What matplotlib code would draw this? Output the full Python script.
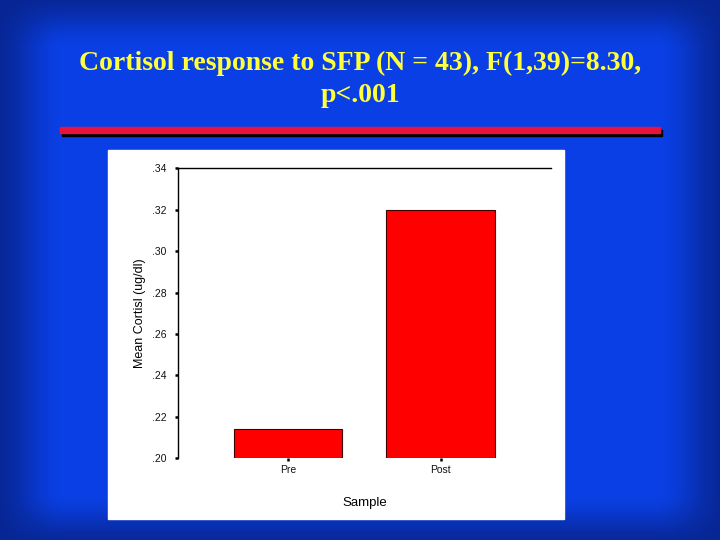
import numpy as np
import matplotlib
matplotlib.use("Agg")
import matplotlib.pyplot as plt
from matplotlib.patches import Rectangle

categories = ["Pre", "Post"]
means = [0.214, 0.320]
yticks = [0.20, 0.22, 0.24, 0.26, 0.28, 0.30, 0.32, 0.34]
ytick_labels = [".20", ".22", ".24", ".26", ".28", ".30", ".32", ".34"]
title_line1 = "Cortisol response to SFP (N = 43), F(1,39)=8.30,"
title_line2 = "p<.001"

W, H = 720, 540
fig = plt.figure(figsize=(7.2, 5.4), dpi=100)

# Background: blue with darker soft edges
bg = fig.add_axes([0, 0, 1, 1])
bg.set_axis_off()
yy, xx = np.mgrid[0:H:2, 0:W:2].astype(float)
def ramp(d, w):
    t = np.clip(d / w, 0, 1)
    return t * t * (3 - 2 * t)
f = ramp(xx + 10, 75) * ramp(W - xx + 10, 75) * ramp(yy + 10, 60) * ramp(H - yy + 10, 60)
center = np.array([0.04, 0.25, 0.90])
edge = np.array([0.03, 0.15, 0.58])
img = edge + (center - edge) * f[..., None]
bg.imshow(img, extent=[0, 1, 0, 1], aspect="auto", origin="upper")
bg.set_xlim(0, 1)
bg.set_ylim(0, 1)

# Title
for txt, base in [(title_line1, 69.5), (title_line2, 101.5)]:
    fig.text(0.5, 1 - base / H, txt, ha="center", va="baseline", color="#ffff3c",
             fontsize=20, fontweight="bold", family="Liberation Serif")

# Red rule with shadow
bg.add_patch(Rectangle((62 / W, 1 - 136 / H), 600 / W, 6 / H, color="black", zorder=2))
bg.add_patch(Rectangle((60 / W, 1 - 133 / H), 600 / W, 6 / H, color="#e8123c", zorder=3))

# White panel
bg.add_patch(Rectangle((108 / W, 1 - 519 / H), 456 / W, 369 / H, color="white", zorder=2))

ax = fig.add_axes([177.7 / W, 1 - 458.3 / H, 373.3 / W, 290 / H])
ax.patch.set_alpha(0)
x = np.arange(len(categories))
ax.bar(x, [m - 0.20 for m in means], bottom=0.20, width=0.71,
       color="#ff0000", edgecolor="#400000", linewidth=0.8, zorder=3)
ax.set_xlim(-0.725, 1.725)
ax.set_ylim(0.20, 0.34)
ax.set_yticks(yticks)
ax.set_yticklabels(ytick_labels, family="Liberation Sans", fontsize=7.5, color="#111111")
ax.set_xticks(x)
ax.set_xticklabels(categories, family="Liberation Sans", fontsize=7.5, color="#111111")
ax.tick_params(axis="y", direction="out", length=2, width=1.8, pad=6)
ax.tick_params(axis="x", direction="out", length=2.5, width=1.8, pad=2)
for s in ["bottom", "right"]:
    ax.spines[s].set_visible(False)
ax.spines["top"].set_linewidth(1.0)
ax.spines["left"].set_linewidth(1.0)
ax.set_ylabel("Mean Cortisl (ug/dl)", family="Liberation Sans", fontsize=9, labelpad=4)
ax.set_xlabel("Sample", family="Liberation Sans", fontsize=9.5, labelpad=16)

fig.savefig("out.png", dpi=100)
